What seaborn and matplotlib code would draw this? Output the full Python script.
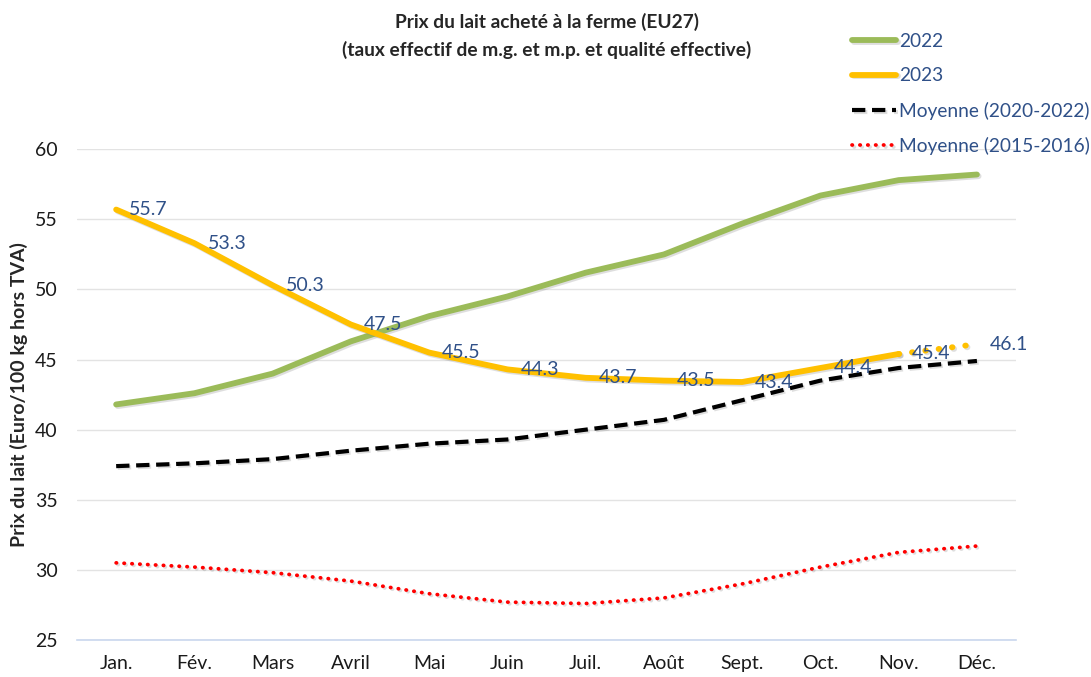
import pandas as pd
import matplotlib.pyplot as plt
import matplotlib.patheffects as pe
from matplotlib.ticker import FixedLocator
import seaborn as sns

# months and series
mois = ["Jan.", "Fév.", "Mars", "Avril", "Mai", "Juin",
        "Juil.", "Août", "Sept.", "Oct.", "Nov.", "Déc."]

prix_2022 = [41.8, 42.6, 44.0, 46.3, 48.1, 49.5, 51.2, 52.5, 54.7, 56.7, 57.8, 58.2]
prix_2023 = [55.7, 53.3, 50.3, 47.5, 45.5, 44.3, 43.7, 43.5, 43.4, 44.4, 45.4, 46.1]
moy_2020_2022 = [37.4, 37.6, 37.9, 38.5, 39.0, 39.3, 40.0, 40.7, 42.1, 43.5, 44.4, 44.9]
moy_2015_2016 = [30.5, 30.2, 29.8, 29.2, 28.3, 27.7, 27.6, 28.0, 29.0, 30.2, 31.25, 31.7]

# last month of 2023 is a forecast (dotted)
n_reel_2023 = 11

sns.set_theme(style="white")
plt.rcParams["font.family"] = ["Lato", "DejaVu Sans"]

df = pd.DataFrame({
    "pos": range(len(mois)),
    "2022": prix_2022,
    "2023": prix_2023,
    "moy1": moy_2020_2022,
    "moy2": moy_2015_2016,
})

fig = plt.figure(figsize=(10.91, 6.77), dpi=100)
ax = fig.add_axes([0.0706, 0.0547, 0.8607, 0.7248])

shadow = [pe.SimpleLineShadow(offset=(1.2, -1.2), shadow_color="#7f7f7f", alpha=0.25),
          pe.Normal()]

sns.lineplot(data=df, x="pos", y="2022", ax=ax, color="#9BBB59", lw=4.2,
             label="2022", solid_capstyle="round", path_effects=shadow)
sns.lineplot(data=df.iloc[:n_reel_2023], x="pos", y="2023", ax=ax, color="#FFC000",
             lw=4.2, label="2023", solid_capstyle="round", path_effects=shadow)
sns.lineplot(data=df.iloc[n_reel_2023 - 1:], x="pos", y="2023", ax=ax, color="#FFC000",
             lw=4.2, linestyle=(0, (0.1, 2.2)), dash_capstyle="round",
             label="_nolegend_", path_effects=shadow)
sns.lineplot(data=df, x="pos", y="moy1", ax=ax, color="black", lw=3,
             linestyle=(0, (3.2, 1.6)), label="Moyenne (2020-2022)", path_effects=shadow)
sns.lineplot(data=df, x="pos", y="moy2", ax=ax, color="#FF0000", lw=2.7,
             linestyle=(0, (0.1, 2.0)), dash_capstyle="round",
             label="Moyenne (2015-2016)", path_effects=shadow)

# value labels for 2023
txt_col = "#2F5088"
for p, v in zip(df["pos"], prix_2023):
    ax.annotate(f"{v:.1f}", (p, v), xytext=(9.4, 0), textcoords="offset points",
                ha="left", va="center", fontsize=14, color=txt_col)

ax.set_xlim(-0.5, len(mois) - 0.5)
ax.set_ylim(25, 60)
ax.set_yticks(range(25, 61, 5))
ax.set_xticks(df["pos"])
ax.set_xticklabels(mois)
ax.xaxis.set_minor_locator(FixedLocator([i - 0.5 for i in range(len(mois) + 1)]))
ax.tick_params(axis="x", which="major", length=0, pad=11, labelsize=14, labelcolor="#1a1a1a")
ax.tick_params(axis="x", which="minor", length=5, width=1, color="#C9D7EE", direction="out")
ax.tick_params(axis="y", length=0, pad=14, labelsize=14, labelcolor="#1a1a1a")

ax.grid(axis="y", color="#E3E3E3", lw=1)
ax.set_axisbelow(True)
for s in ["top", "right", "left"]:
    ax.spines[s].set_visible(False)
ax.spines["bottom"].set_color("#C9D7EE")
ax.spines["bottom"].set_linewidth(1.2)

ax.set_xlabel("")
ax.set_ylabel("Prix du lait (Euro/100 kg hors TVA)", fontsize=14, fontweight="bold")
ax.yaxis.set_label_coords(-0.052, 0.5)

fig.text(0.501, 1 - 22 / 677, "Prix du lait acheté à la ferme (EU27)",
         ha="center", va="center", fontsize=13.8, fontweight="bold")
fig.text(0.501, 1 - 50 / 677, "(taux effectif de m.g. et m.p. et qualité effective)",
         ha="center", va="center", fontsize=13.8, fontweight="bold")

leg = ax.legend(loc="upper left", bbox_to_anchor=(852 / 1091, 1 - 33 / 677),
                bbox_transform=fig.transFigure, frameon=False, fontsize=13.8,
                handlelength=2.3, handletextpad=0.15, labelspacing=0.9,
                labelcolor=txt_col, borderaxespad=0, borderpad=0)

fig.savefig("out.png", dpi=100)
